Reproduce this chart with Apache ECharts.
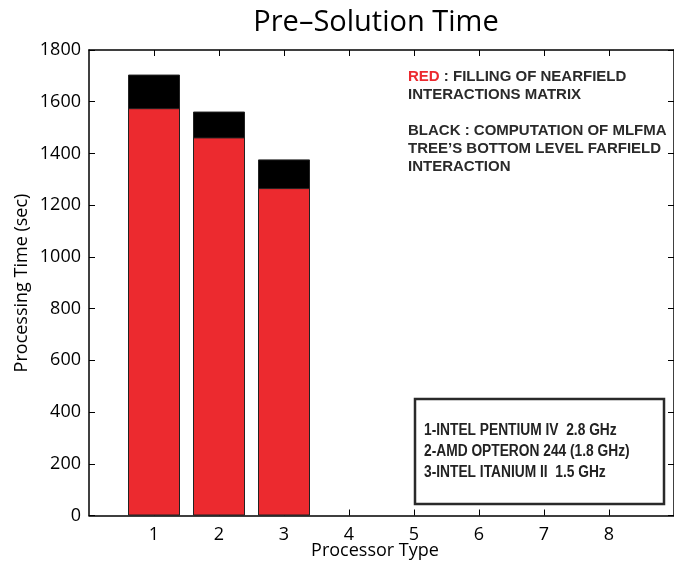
<!DOCTYPE html>
<html>
<head>
<meta charset="utf-8">
<script src="https://cdn.jsdelivr.net/npm/echarts@6/dist/echarts.min.js"></script>
<style>
  html, body { margin: 0; padding: 0; background: #fff; }
  #chart { width: 674px; height: 565px; }
</style>
</head>
<body>
<div id="chart"></div>
<script>
// Processor types along the x axis
const processors = [1, 2, 3];
// Filling of nearfield interactions matrix (sec)
const nearfieldFill = [1575, 1462, 1266];
// MLFMA tree bottom-level farfield interaction (sec)
const farfieldCompute = [130, 100, 111];
// Axis ticks
const xTicks = [1, 2, 3, 4, 5, 6, 7, 8];
const yTicks = [0, 200, 400, 600, 800, 1000, 1200, 1400, 1600, 1800];
// Processor key
const processorNames = [
  '1-INTEL PENTIUM IV  2.8 GHz',
  '2-AMD OPTERON 244 (1.8 GHz)',
  '3-INTEL ITANIUM II  1.5 GHz'
];

// Black segment sits on top of the red one: draw the full height in black,
// then the red part over it.
const totalTime = nearfieldFill.map((v, i) => v + farfieldCompute[i]);

const FONT = '"Open Sans", "Liberation Sans", sans-serif';
const BOLD = '"Liberation Sans", Arial, sans-serif';
const RED = '#ec2a2f';

const chart = echarts.init(document.getElementById('chart'), null, { renderer: 'canvas' });

const axisLineStyle = { color: '#000', width: 1.5 };
const tickStyle = { color: '#000', width: 1 };

const option = {
  animation: false,
  backgroundColor: '#fff',
  title: {
    text: 'Pre\u2013Solution Time',
    left: 371,
    top: 3,
    textAlign: 'center',
    textStyle: { fontFamily: FONT, fontSize: 29, fontWeight: 'normal', color: '#000' }
  },
  grid: { left: 89, top: 50, width: 589, height: 465.5, containLabel: false },
  xAxis: [
    {
      type: 'value', min: 0, max: 9, interval: 1, position: 'bottom',
      axisLine: { show: true, onZero: false, lineStyle: axisLineStyle },
      axisTick: { show: true, inside: true, length: 6, lineStyle: tickStyle, customValues: xTicks },
      axisLabel: { show: true, customValues: xTicks, margin: 10, fontFamily: FONT, fontSize: 18, color: '#000' },
      splitLine: { show: false }
    },
    {
      type: 'value', min: 0, max: 9, interval: 1, position: 'top',
      axisLine: { show: true, onZero: false, lineStyle: axisLineStyle },
      axisTick: { show: true, inside: true, length: 6, lineStyle: tickStyle, customValues: xTicks },
      axisLabel: { show: false },
      splitLine: { show: false }
    }
  ],
  yAxis: [
    {
      type: 'value', min: 0, max: 1800, interval: 200, position: 'left',
      axisLine: { show: true, onZero: false, lineStyle: axisLineStyle },
      axisTick: { show: true, inside: true, length: 6, lineStyle: tickStyle, customValues: yTicks },
      axisLabel: {
        show: true, customValues: yTicks, margin: 8, fontFamily: FONT, fontSize: 18, color: '#000',
        formatter: (v) => String(v)
      },
      splitLine: { show: false }
    },
    {
      type: 'value', min: 0, max: 1800, interval: 200, position: 'right',
      axisLine: { show: true, onZero: false, lineStyle: axisLineStyle },
      axisTick: { show: true, inside: true, length: 6, lineStyle: tickStyle, customValues: yTicks },
      axisLabel: { show: false },
      splitLine: { show: false }
    }
  ],
  series: [
    {
      name: 'BLACK', type: 'bar', barWidth: 52, barGap: '-100%',
      xAxisIndex: 0, yAxisIndex: 0, z: 2,
      itemStyle: { color: '#000', borderColor: '#222', borderWidth: 1 },
      data: processors.map((p, i) => [p, totalTime[i]])
    },
    {
      name: 'RED', type: 'bar', barWidth: 52, barGap: '-100%',
      xAxisIndex: 0, yAxisIndex: 0, z: 3,
      itemStyle: { color: RED, borderColor: '#222', borderWidth: 1 },
      data: processors.map((p, i) => [p, nearfieldFill[i]])
    }
  ],
  graphic: [
    // axis titles
    {
      type: 'text', x: 375, y: 551,
      style: { text: 'Processor Type', font: '18px ' + FONT, fill: '#000', align: 'center', verticalAlign: 'middle' }
    },
    {
      type: 'text', x: 22, y: 283, rotation: Math.PI / 2,
      style: { text: 'Processing Time (sec)', font: '18px ' + FONT, fill: '#000', align: 'center', verticalAlign: 'middle' }
    },
    // colour annotation
    {
      type: 'text', x: 408, y: 68,
      style: {
        text: '{r|RED} : FILLING OF NEARFIELD\nINTERACTIONS MATRIX\n\nBLACK : COMPUTATION OF MLFMA\nTREE\u2019S BOTTOM LEVEL FARFIELD\nINTERACTION',
        font: 'bold 15px ' + BOLD, fill: '#2a2a2a', lineHeight: 18, verticalAlign: 'top',
        rich: { r: { fill: RED, font: 'bold 15px ' + BOLD, lineHeight: 18 } }
      }
    },
    // processor key box
    {
      type: 'rect', shape: { x: 415, y: 399, width: 249, height: 105 },
      style: { fill: '#fff', stroke: '#2a2a2a', lineWidth: 2.5 }
    },
    {
      type: 'text', x: 424, y: 420.5, scaleX: 0.86,
      style: {
        text: processorNames.join('\n'),
        font: 'bold 16px ' + BOLD, fill: '#222', lineHeight: 20.7, verticalAlign: 'top'
      }
    }
  ]
};

chart.setOption(option);
</script>
</body>
</html>
